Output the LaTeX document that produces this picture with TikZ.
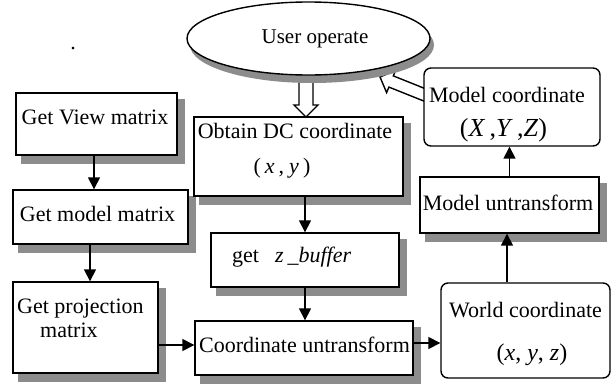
\documentclass[tikz,border=0pt]{standalone}
\usepackage{fontspec}
\setmainfont{Liberation Serif}
\usetikzlibrary{shapes.geometric,arrows.meta}
\begin{document}
\begin{tikzpicture}[x=1pt,y=-1pt,
  box/.style={draw, line width=1.4pt, fill=white, inner sep=0pt},
  rbox/.style={draw, line width=1.4pt, fill=white, rounded corners=7pt, inner sep=0pt},
  txt/.style={anchor=base, inner sep=0pt, font=\fontsize{22}{26}\selectfont},
  arr/.style={line width=1.5pt, -{Triangle[length=12pt,width=12pt]}},
  hollow/.style={draw, line width=1.4pt, fill=white, line join=miter},
  sh/.style={fill=black!45, draw=none, inner sep=0pt}]

\useasboundingbox (0,0) rectangle (612,383);

% hollow arrows (drawn first, partly hidden)
\coordinate (ht) at (306,117);
\draw[hollow] (ht) ++(7,-39) -- ++(0,27) -- ++(5,0) -- (ht) -- ++(-12,-12) -- ++(5,0) -- ++(0,-27);
\coordinate (hs1) at (424,88.2);
\coordinate (hs2) at (424,101.1);
\coordinate (htip) at (380,77);
\draw[hollow] (hs1) -- (393.3,75.9) -- (395.6,70.4) -- (htip) -- (386.6,92.6) -- (388.9,87.1) -- (hs2);

% shadows
\node[sh, ellipse, minimum width=244pt, minimum height=76pt] (suser) at (312,45) {};
\node[sh, minimum width=164pt, minimum height=65pt] (sview) at (103,131) {};
\node[sh, minimum width=178pt, minimum height=57pt] (smodel) at (107,224) {};
\node[sh, minimum width=148pt, minimum height=94pt] (sproj) at (92,334.5) {};
\node[sh, minimum width=212pt, minimum height=82pt] (sdc) at (305,163.5) {};
\node[sh, minimum width=191pt, minimum height=57pt] (szbuf) at (311.5,267) {};
\node[sh, minimum width=221pt, minimum height=57pt] (scu) at (310.5,355) {};
\node[sh, minimum width=182pt, minimum height=59pt] (smu) at (516,212) {};

% ellipse
\node[ellipse, draw, line width=1.4pt, fill=white, inner sep=0pt,
      minimum width=243pt, minimum height=73pt] (user) at (308.5,38.5) {};

% boxes
\node[box, minimum width=161pt, minimum height=62pt] (view) at (96.5,124) {};
\node[box, minimum width=175pt, minimum height=54pt] (model) at (100.5,217) {};
\node[box, minimum width=145pt, minimum height=91pt] (proj) at (85.5,327.5) {};
\node[box, minimum width=209pt, minimum height=79pt] (dc) at (298.5,156.5) {};
\node[box, minimum width=188pt, minimum height=54pt] (zbuf) at (305,260) {};
\node[box, minimum width=218pt, minimum height=54pt] (cu) at (304,348) {};
\node[box, minimum width=179pt, minimum height=56pt] (mu) at (509.5,205) {};
\node[rbox, minimum width=169pt, minimum height=95pt] (world) at (525.5,330.5) {};
\node[rbox, minimum width=176pt, minimum height=78pt] (mc) at (512,107) {};

% texts
\node[txt, font=\fontsize{21}{25}\selectfont] (tuser) at (315,43) {User operate};
\node[txt] (dot) at (73,49) {.};
\node[txt] (tview) at (95,124) {Get View matrix};
\node[txt] (tmodel) at (97.5,221) {Get model matrix};
\node[txt, anchor=base west] (tproj1) at (17,313) {Get projection};
\node[txt, anchor=base west] (tproj2) at (40,337) {matrix};
\node[txt] (tdc1) at (295,138) {Obtain DC coordinate};
\node[txt] (tdc2) at (282,173) {(\hspace{4pt}\textit{x}\hspace{4pt},\hspace{5pt}\textit{y}\hspace{4pt})};
\node[txt, anchor=base west] (tz) at (232,262) {get\hspace{16pt}\textit{z}\hspace{4pt}\textit{\_buffer}};
\node[txt] (tcu) at (304.5,352) {Coordinate untransform};
\node[txt] (tmu) at (508,210) {Model untransform};
\node[txt] (tw1) at (525.5,317) {World coordinate};
\node[txt, font=\fontsize{24}{28}\selectfont] (tw2) at (532,360) {(\textit{x}, \textit{y}, \textit{z})};
\node[txt] (tmc1) at (507,102) {Model coordinate};
\node[txt, font=\fontsize{26}{30}\selectfont] (tmc2) at (503.5,136) {(\textit{X}\,,\textit{Y}\,,\textit{Z})};

% solid arrows
\coordinate (a1) at ([xshift=-2.5pt]view.south);
\draw[arr] (a1) -- (a1 |- model.north);
\coordinate (a2) at ([xshift=-10.5pt]model.south);
\draw[arr] (a2) -- (a2 |- proj.north);
\coordinate (a3) at ([yshift=3pt]cu.west);
\draw[arr] (a3 -| proj.east) -- (a3);
\draw[arr] (zbuf.north |- dc.south) -- (zbuf.north);
\draw[arr] (zbuf.south) -- (zbuf.south |- cu.north);
\coordinate (a4) at ([yshift=5pt]cu.east);
\draw[arr] (a4) -- (a4 -| world.west);
\coordinate (a5) at ([xshift=-2.5pt]mu.south);
\draw[arr] (a5 |- world.north) -- (a5);
\draw[arr] (mu.north) -- (mu.north |- mc.south);
\end{tikzpicture}
\end{document}
